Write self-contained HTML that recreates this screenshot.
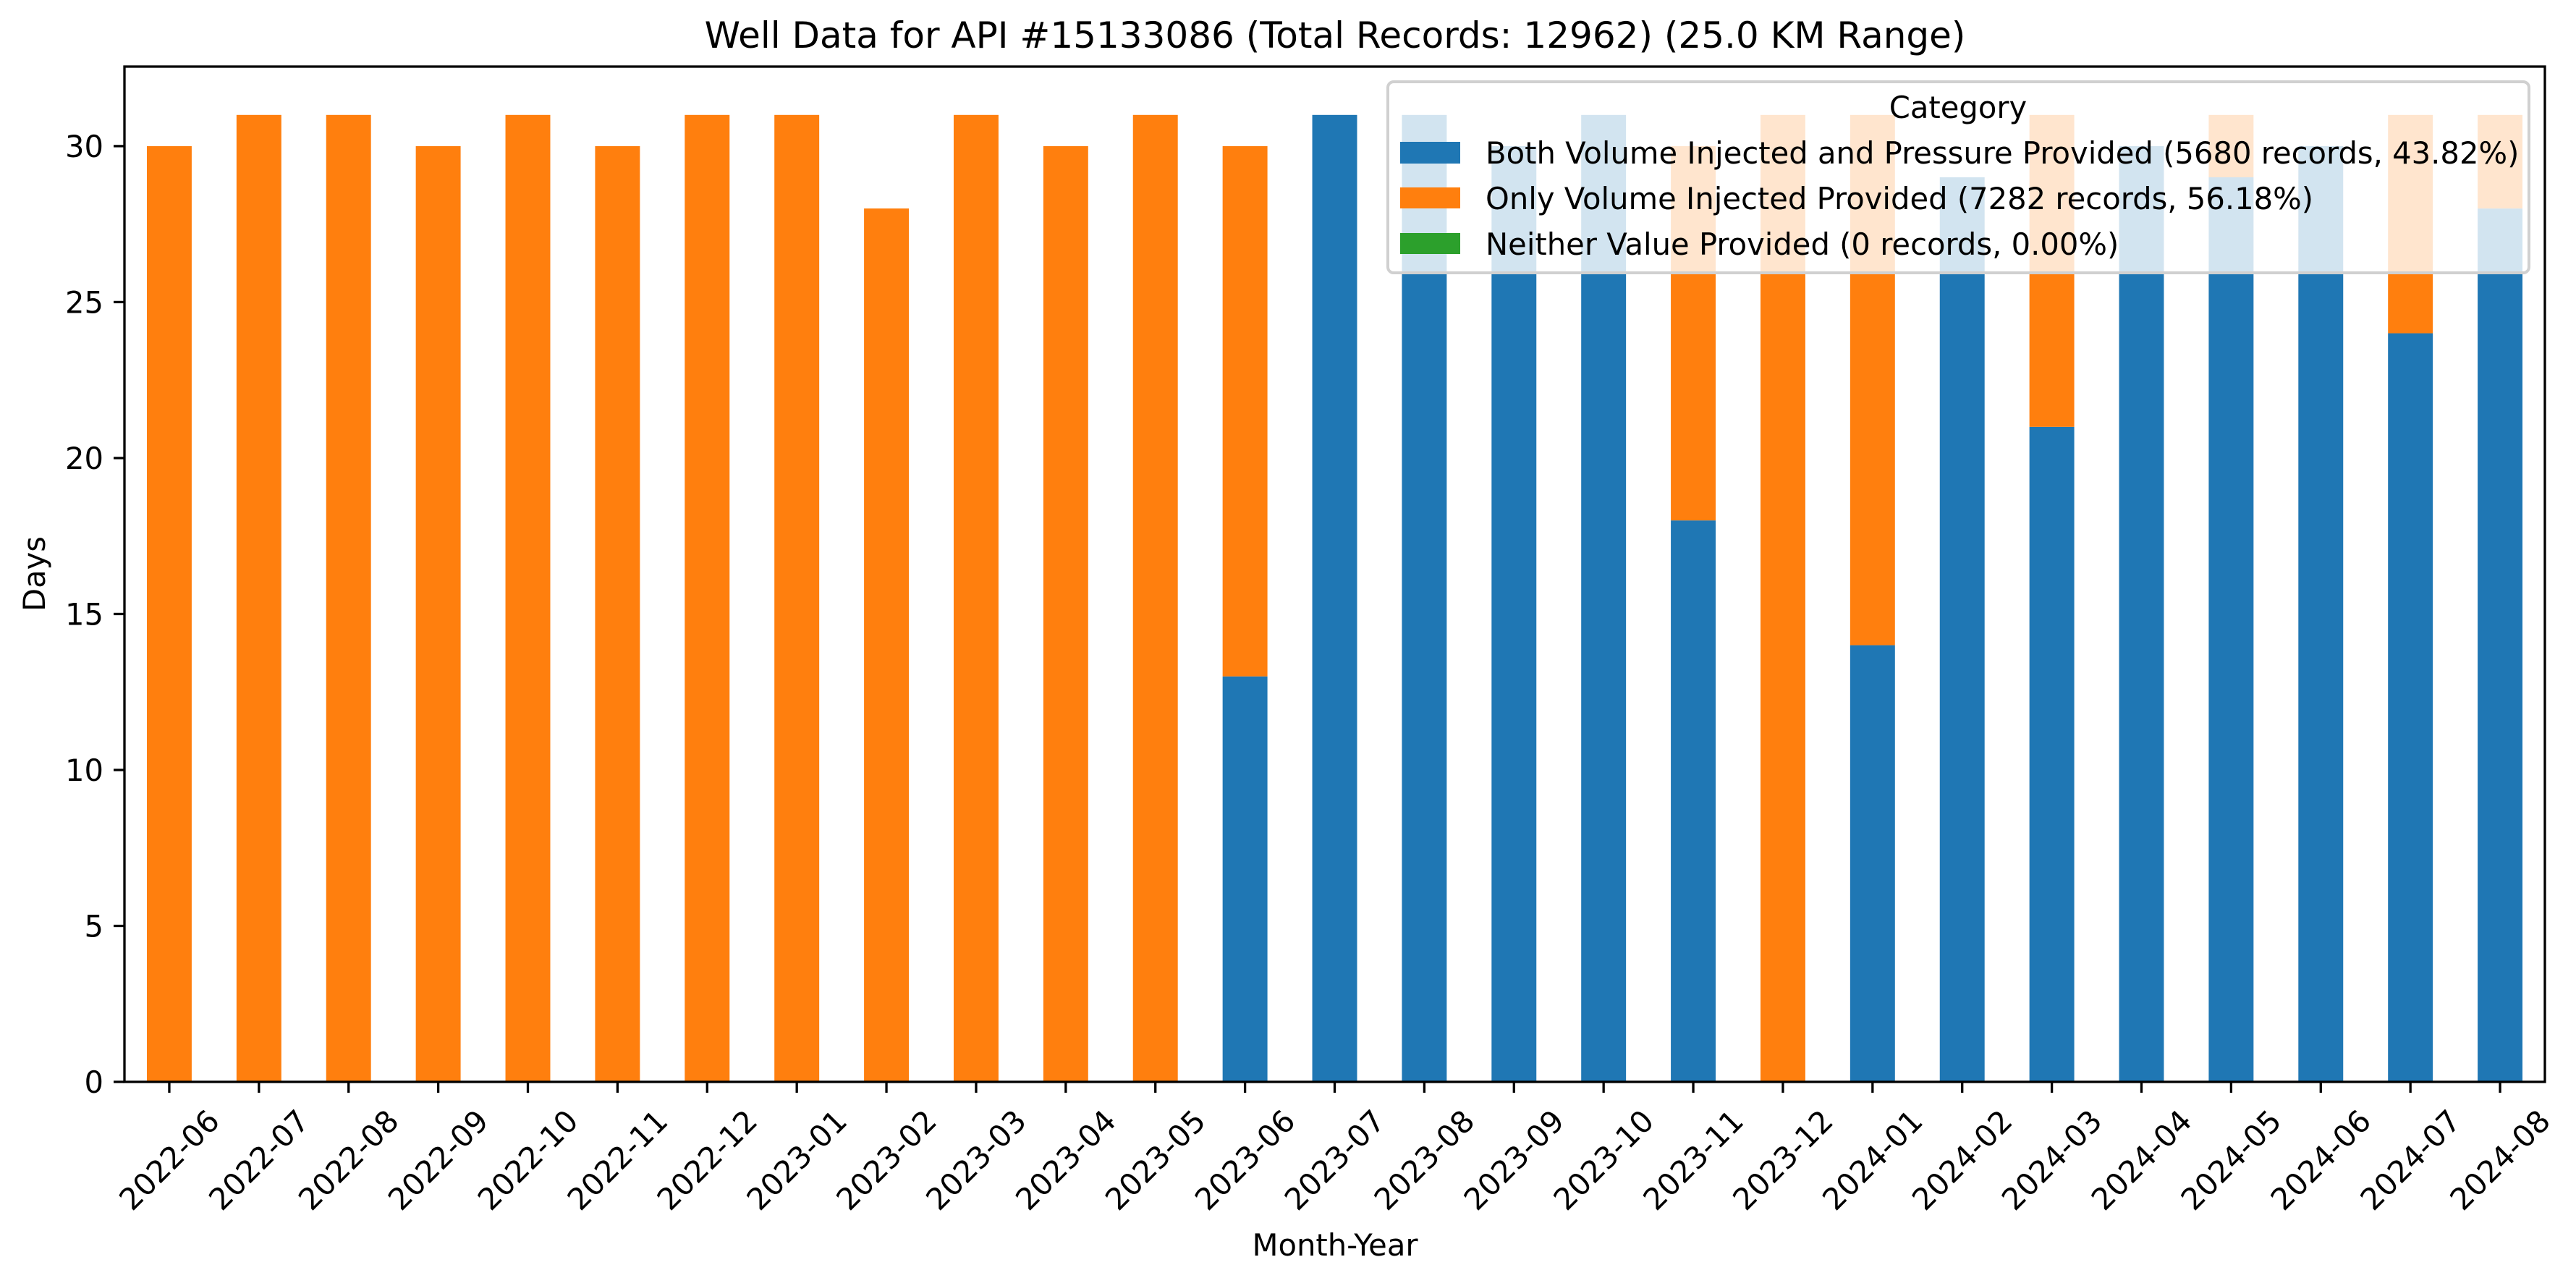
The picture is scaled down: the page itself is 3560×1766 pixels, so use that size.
<!DOCTYPE html>
<html><head><meta charset="utf-8"><style>
html,body{margin:0;padding:0;background:#fff;}
svg{display:block;font-family:"DejaVu Sans","Liberation Sans",sans-serif;}
</style></head><body>
<svg id="chart" width="3560" height="1766" viewBox="0 0 3560 1766" xmlns="http://www.w3.org/2000/svg">
<rect width="3560" height="1766" fill="#fff"/>
<text x="1845" y="66" font-size="50" text-anchor="middle">Well Data for API #15133086 (Total Records: 12962) (25.0 KM Range)</text>
<g id="bars"></g>
<g id="axes"></g>
<g>
<rect x="1918" y="113" width="1577" height="264" rx="8" fill="rgba(255,255,255,0.8)" stroke="#d0d0d0" stroke-width="4"/>
<text x="2706" y="163" font-size="41.7" text-anchor="middle">Category</text>
<rect x="1935" y="196" width="83" height="30" fill="#1f77b4"/>
<text x="2053" y="226" font-size="41.7">Both Volume Injected and Pressure Provided (5680 records, 43.82%)</text>
<rect x="1935" y="259" width="83" height="29" fill="#ff7f0e"/>
<text x="2053" y="289" font-size="41.7">Only Volume Injected Provided (7282 records, 56.18%)</text>
<rect x="1935" y="322" width="83" height="29" fill="#2ca02c"/>
<text x="2053" y="352" font-size="41.7">Neither Value Provided (0 records, 0.00%)</text>
</g>
<text x="1845" y="1735" font-size="41.7" text-anchor="middle">Month-Year</text>
<text x="62" y="793" font-size="41.7" text-anchor="middle" transform="rotate(-90 62 793)">Days</text>
</svg>
<script>
const categories = ["2022-06","2022-07","2022-08","2022-09","2022-10","2022-11","2022-12","2023-01","2023-02","2023-03","2023-04","2023-05","2023-06","2023-07","2023-08","2023-09","2023-10","2023-11","2023-12","2024-01","2024-02","2024-03","2024-04","2024-05","2024-06","2024-07","2024-08"];
const bothValues = [0,0,0,0,0,0,0,0,0,0,0,0,13,31,31,30,31,18,0,14,29,21,30,29,30,24,28];
const onlyVolumeValues = [30,31,31,30,31,30,31,31,28,31,30,31,17,0,0,0,0,12,31,17,0,10,0,2,0,7,3];
const neitherValues = [0,0,0,0,0,0,0,0,0,0,0,0,0,0,0,0,0,0,0,0,0,0,0,0,0,0,0];
const yTicks = [0,5,10,15,20,25,30];

const NS = "http://www.w3.org/2000/svg";
const L = 172, R = 3517, T = 92, B = 1495;
const n = categories.length;
const yMax = 32.55;
const step = (R - L) / n;
function xPos(i){ return L + step * (i + 0.5); }
function yPos(v){ return B - (v / yMax) * (B - T); }
const barW = step * 0.5;
const barsG = document.getElementById("bars");
const axesG = document.getElementById("axes");
function mk(tag, attrs, parent){
  const e = document.createElementNS(NS, tag);
  for (const k in attrs) e.setAttribute(k, attrs[k]);
  parent.appendChild(e);
  return e;
}
const series = [[bothValues,"#1f77b4","both"],[onlyVolumeValues,"#ff7f0e","only-volume"],[neitherValues,"#2ca02c","neither"]];
for (let i = 0; i < n; i++) {
  let base = 0;
  for (const s of series) {
    const v = s[0][i];
    if (v > 0) {
      const r = mk("rect", {x: xPos(i) - barW/2, y: yPos(base + v), width: barW, height: yPos(base) - yPos(base + v), fill: s[1]}, barsG);
      
      
    }
    base += v;
  }
}
// spines
const frame = mk("rect", {x: L, y: T, width: R - L, height: B - T, fill: "none", stroke: "#000", "stroke-width": 3.3}, axesG);


// y ticks
for (const t of yTicks) {
  const y = yPos(t);
  const tk = mk("line", {x1: L - 15, x2: L, y1: y, y2: y, stroke: "#000", "stroke-width": 3.3}, axesG);
  
  
  const lb = mk("text", {x: L - 29, y: y + 15, "font-size": 41.7, "text-anchor": "end"}, axesG);
  lb.textContent = t;
  
  
}
// x ticks
for (let i = 0; i < n; i++) {
  const x = xPos(i);
  const tk = mk("line", {x1: x, x2: x, y1: B, y2: B + 15, stroke: "#000", "stroke-width": 3.3}, axesG);
  
  
  const cy = 1603;
  const lb = mk("text", {x: x, y: cy, "font-size": 41.7, "text-anchor": "middle", "dominant-baseline": "central", transform: "rotate(-45 " + x + " " + cy + ")"}, axesG);
  lb.textContent = categories[i];
  
  
}
</script>
</body></html>
